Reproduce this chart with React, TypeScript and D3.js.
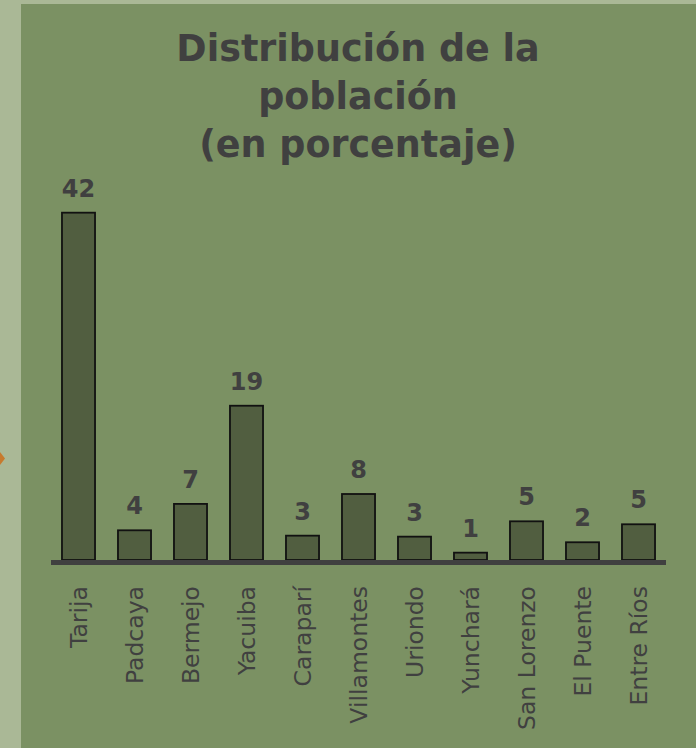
import React, { useEffect, useRef } from "react";
import * as d3 from "d3";

const municipios = [
  "Tarija",
  "Padcaya",
  "Bermejo",
  "Yacuiba",
  "Caraparí",
  "Villamontes",
  "Uriondo",
  "Yunchará",
  "San Lorenzo",
  "El Puente",
  "Entre Ríos",
];
// bar heights (percent)
const porcentajes = [42.1, 3.6, 6.8, 18.7, 2.95, 8.0, 2.83, 0.89, 4.69, 2.15, 4.33];
// labels printed above the bars
const etiquetas = ["42", "4", "7", "19", "3", "8", "3", "1", "5", "2", "5"];
const tituloLineas = ["Distribución de la", "población", "(en porcentaje)"];

const W = 696;
const H = 748;

const App = () => {
  const svgRef = useRef<SVGSVGElement>(null);

  useEffect(() => {
    const svg = d3.select(svgRef.current).attr("width", W).attr("height", H);
    svg.selectAll("*").remove();

    const font = "'DejaVu Sans', sans-serif";
    const ink = "#404040";

    // slide background
    svg.append("rect").attr("width", W).attr("height", H).attr("fill", "#aab896");
    svg
      .append("rect")
      .attr("x", 21)
      .attr("y", 4)
      .attr("width", W - 21)
      .attr("height", H - 4)
      .attr("fill", "#7b9163");
    svg
      .append("path")
      .attr("d", "M0,452 L5,458.5 L0,465 Z")
      .attr("fill", "#c77a2e");

    const baseY = 560;
    const x = d3
      .scaleBand()
      .domain(municipios)
      .range([50.5, 666.5])
      .paddingInner(0.41)
      .paddingOuter(0.205);
    const y = d3.scaleLinear().domain([0, 45]).range([baseY, baseY - 45 * 8.25]);

    // title
    svg
      .append("g")
      .selectAll("text")
      .data(tituloLineas)
      .enter()
      .append("text")
      .attr("x", 358)
      .attr("y", (_, i) => 61 + i * 48)
      .attr("text-anchor", "middle")
      .attr("font-family", font)
      .attr("font-weight", "bold")
      .attr("font-size", 36.5)
      .attr("fill", ink)
      .text((d) => d);

    const g = svg.append("g");

    g.selectAll("rect.bar")
      .data(porcentajes)
      .enter()
      .append("rect")
      .attr("class", "bar")
      .attr("x", (_, i) => x(municipios[i])!)
      .attr("y", (d) => y(d))
      .attr("width", x.bandwidth())
      .attr("height", (d) => baseY - y(d))
      .attr("fill", "#515e40")
      .attr("stroke", "#111")
      .attr("stroke-width", 1.8);

    g.selectAll("text.val")
      .data(porcentajes)
      .enter()
      .append("text")
      .attr("class", "val")
      .attr("x", (_, i) => x(municipios[i])! + x.bandwidth() / 2)
      .attr("y", (d) => y(d) - 16)
      .attr("text-anchor", "middle")
      .attr("font-family", font)
      .attr("font-weight", "bold")
      .attr("font-size", 24)
      .attr("fill", ink)
      .text((_, i) => etiquetas[i]);

    // baseline axis
    g.append("line")
      .attr("x1", 51)
      .attr("x2", 666)
      .attr("y1", baseY + 2.5)
      .attr("y2", baseY + 2.5)
      .attr("stroke", ink)
      .attr("stroke-width", 5);

    // category labels, rotated
    g.selectAll("text.cat")
      .data(municipios)
      .enter()
      .append("text")
      .attr("class", "cat")
      .attr("transform", (d) => `translate(${x(d)! + x.bandwidth() / 2 + 8.5},586) rotate(-90)`)
      .attr("text-anchor", "end")
      .attr("font-family", font)
      .attr("font-size", 23.5)
      .attr("fill", ink)
      .text((d) => d);
  }, []);

  return (
    <div style={{ position: "fixed", left: 0, top: 0 }}>
      <svg ref={svgRef} style={{ display: "block" }}></svg>
    </div>
  );
};

export default App;
